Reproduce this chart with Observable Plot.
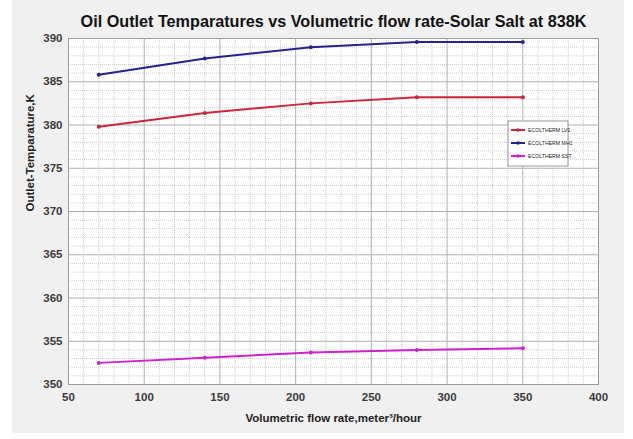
<!DOCTYPE html>
<html><head><meta charset="utf-8">
<script src="https://cdn.jsdelivr.net/npm/d3@7"></script>
<script src="https://cdn.jsdelivr.net/npm/@observablehq/plot@0.6"></script>
<style>
html,body{margin:0;padding:0;background:#fff;}
#wrap{position:relative;width:633px;height:439px;}
</style>
</head><body><div id="wrap"></div>
<script>
const flowRates = [70, 140, 210, 280, 350];
const seriesNames = ["ECOLTHERM LV1", "ECOLTHERM MH1", "ECOLTHERM SST"];
const lv1 = [379.8, 381.4, 382.5, 383.2, 383.2];
const mh1 = [385.8, 387.7, 389.0, 389.6, 389.6];
const sst = [352.5, 353.1, 353.7, 354.0, 354.2];
const xTicks = [50, 100, 150, 200, 250, 300, 350, 400];
const yTicks = [350, 355, 360, 365, 370, 375, 380, 385, 390];
const colors = ["#c8283a", "#23238f", "#cc22cc"];

const seriesValues = [lv1, mh1, sst];
const data = [];
seriesNames.forEach((s, i) => flowRates.forEach((x, j) => data.push({series: s, x, y: seriesValues[i][j]})));

const xMinor = d3.range(50, 401, 10).filter(v => v % 50 !== 0);
const yMinor = d3.range(350, 391, 1).filter(v => v % 5 !== 0);

const font = "'Liberation Sans', Arial, sans-serif";

const plot = Plot.plot({
  width: 633, height: 439,
  marginLeft: 68, marginRight: 35, marginTop: 38, marginBottom: 55,
  style: {fontFamily: font, background: "transparent", overflow: "visible"},
  x: {domain: [50, 400], ticks: xTicks, tickSize: 0, tickPadding: 8, label: null},
  y: {domain: [350, 390], ticks: yTicks, tickSize: 0, tickPadding: 6, label: null},
  color: {domain: seriesNames, range: colors},
  marks: [
    Plot.frame({fill: "#fff"}),
    Plot.gridX(xMinor, {stroke: "#cdcdcd", strokeOpacity: 1, strokeDasharray: "1,1"}),
    Plot.gridY(yMinor, {stroke: "#cdcdcd", strokeOpacity: 1, strokeDasharray: "1,1"}),
    Plot.gridX(xTicks, {stroke: "#b0b0b0", strokeOpacity: 1}),
    Plot.gridY(yTicks, {stroke: "#b0b0b0", strokeOpacity: 1}),
    Plot.frame({stroke: "#9a9a9a"}),
    Plot.axisX(xTicks, {tickSize: 0, tickPadding: 8, fontSize: 11.5, fontWeight: "bold", fill: "#3a3a3a", label: null}),
    Plot.axisY(yTicks, {tickSize: 0, tickPadding: 6, fontSize: 11.5, fontWeight: "bold", fill: "#3a3a3a", label: null}),
    Plot.line(data, {x: "x", y: "y", z: "series", stroke: "series", strokeWidth: 2}),
    Plot.dot(data, {x: "x", y: "y", fill: "series", r: 2}),
    Plot.text(["Oil Outlet Temparatures vs Volumetric flow rate-Solar Salt at 838K"], {frameAnchor: "top", dy: -23, fontSize: 16.2, fontWeight: "bold", fill: "#111"}),
    Plot.text(["Volumetric flow rate,meter³/hour"], {frameAnchor: "bottom", dy: 37, fontSize: 11.5, fontWeight: "bold", fill: "#222"}),
    Plot.text(["Outlet-Temparature,K"], {frameAnchor: "left", dx: -38, rotate: -90, fontSize: 11.5, fontWeight: "bold", fill: "#222"})
  ]
});

// figure background
const svg = d3.select(plot);
svg.insert("rect", ":first-child").attr("x", 12).attr("y", 0).attr("width", 612).attr("height", 433).attr("fill", "#f0f0f0");

// legend
const lg = svg.append("g").attr("transform", "translate(508,121)");
lg.append("rect").attr("width", 60).attr("height", 45).attr("fill", "#fff").attr("stroke", "#999");
seriesNames.forEach((s, i) => {
  const yy = 9 + i * 13;
  lg.append("line").attr("x1", 3).attr("x2", 17).attr("y1", yy).attr("y2", yy).attr("stroke", colors[i]).attr("stroke-width", 2);
  lg.append("circle").attr("cx", 10).attr("cy", yy).attr("r", 1.8).attr("fill", colors[i]);
  lg.append("text").attr("x", 20).attr("y", yy).attr("dy", "0.35em").attr("text-anchor", "start").attr("font-size", 5.2).attr("font-family", font).attr("fill", "#222").text(s);
});

document.getElementById("wrap").appendChild(plot);
</script>
</body></html>
